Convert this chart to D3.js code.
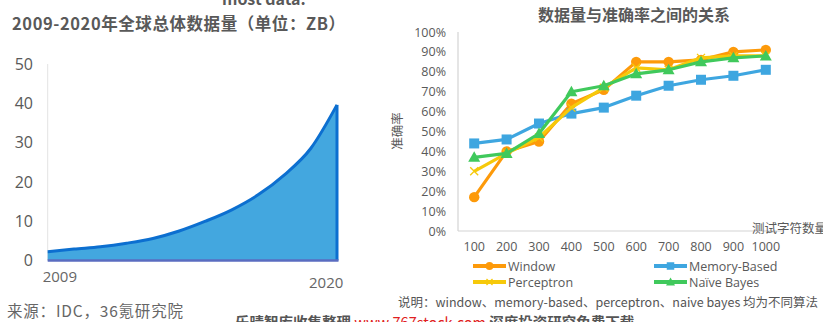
<!DOCTYPE html>
<html>
<head>
<meta charset="utf-8">
<script src="https://cdn.jsdelivr.net/npm/d3@7"></script>
<style>
  html, body { margin: 0; padding: 0; background: #fff; }
  svg { display: block; font-family: "Open Sans", "Noto Sans CJK SC", sans-serif; }
</style>
</head>
<body>
<svg id="chart" width="823" height="322"></svg>
<script>
// Global data volume 2009-2020 (ZB)
const years = [2009, 2010, 2011, 2012, 2013, 2014, 2015, 2016, 2017, 2018, 2019, 2020];
const volumeZB = [2.2, 2.9, 3.5, 4.4, 5.6, 7.5, 10, 12.9, 16.7, 21.8, 28.5, 39.6];
const volumeTicks = [0, 10, 20, 30, 40, 50];
const yearLabels = [2009, 2020];

// Accuracy vs. number of test characters
const charCounts = ["100", "200", "300", "400", "500", "600", "700", "800", "900", "1000"];
const windowAcc     = [17, 40, 45, 64, 71, 85, 85, 86, 90, 91];
const memoryAcc     = [44, 46, 54, 59, 62, 68, 73, 76, 78, 81];
const perceptronAcc = [30, 39, 47, 62, 72, 82, 81, 87, 88, 88];
const naiveBayesAcc = [37, 39, 49, 70, 73, 79, 81, 85, 87, 88];
const accTicks = [0, 10, 20, 30, 40, 50, 60, 70, 80, 90, 100];

const series = [
  { name: "Window", values: windowAcc, color: "#fd9a0a", marker: "circle" },
  { name: "Memory-Based", values: memoryAcc, color: "#3ea6e0", marker: "square" },
  { name: "Perceptron", values: perceptronAcc, color: "#f6c90a", marker: "cross" },
  { name: "Naïve Bayes", values: naiveBayesAcc, color: "#40c95c", marker: "triangle" }
];

const svg = d3.select("#chart");
const textGray = "#595959";
const cjk = "'Noto Sans CJK SC', 'Open Sans', sans-serif";

// ---------- Left: area chart ----------
svg.append("text").attr("x", 222).attr("y", 5)
  .attr("font-family", cjk).attr("font-weight", "bold").attr("font-size", 16)
  .attr("fill", textGray).text("most data.");

svg.append("text").attr("x", 12).attr("y", 30)
  .attr("font-family", cjk).attr("font-weight", "bold").attr("font-size", 16.5)
  .attr("textLength", 333).attr("lengthAdjust", "spacing")
  .attr("fill", textGray).text("2009-2020年全球总体数据量（单位：ZB）");

const xL = d3.scaleLinear().domain([2009, 2020]).range([47.7, 337]);
const yL = d3.scaleLinear().domain([0, 50]).range([260.5, 64]);

// y axis line
svg.append("line").attr("x1", 47.7).attr("x2", 47.7)
  .attr("y1", yL(50)).attr("y2", yL(0)).attr("stroke", "#e3e3e3").attr("stroke-width", 1);

const axL = svg.append("g").attr("transform", "translate(33,0)")
  .call(d3.axisLeft(yL).tickValues(volumeTicks).tickSize(0).tickPadding(0));
axL.select(".domain").remove();
axL.selectAll("text").attr("font-size", 16).attr("fill", textGray)
  .attr("font-family", "'Open Sans', sans-serif");

const area = d3.area()
  .x((d, i) => xL(years[i])).y0(yL(0)).y1(d => yL(d))
  .curve(d3.curveMonotoneX);
const line = d3.line()
  .x((d, i) => xL(years[i])).y(d => yL(d))
  .curve(d3.curveMonotoneX);

svg.append("path").datum(volumeZB).attr("d", area).attr("fill", "#43a7df");
svg.append("path").datum(volumeZB).attr("d", line)
  .attr("fill", "none").attr("stroke", "#0c6fd0").attr("stroke-width", 3);
// closing edge at 2020
svg.append("line").attr("x1", xL(2020)).attr("x2", xL(2020))
  .attr("y1", yL(volumeZB[volumeZB.length - 1])).attr("y2", yL(0))
  .attr("stroke", "#0c6fd0").attr("stroke-width", 3);
// baseline
svg.append("line").attr("x1", xL(2009)).attr("x2", xL(2020) + 1.5)
  .attr("y1", yL(0)).attr("y2", yL(0)).attr("stroke", "#5a6cc0").attr("stroke-width", 2.5);

// year labels
svg.selectAll(".yr").data(yearLabels).join("text")
  .attr("x", (d, i) => i === 0 ? xL(d) - 5 : xL(d) - 28)
  .attr("y", (d, i) => i === 0 ? 282 : 288)
  .attr("font-size", 15).attr("fill", "#666").attr("font-family", "'Open Sans', sans-serif")
  .text(d => d);

svg.append("text").attr("x", 7).attr("y", 317)
  .attr("font-family", cjk).attr("font-size", 15.5).attr("fill", "#666")
  .attr("textLength", 176).attr("lengthAdjust", "spacing")
  .text("来源：IDC，36氪研究院");

// ---------- Right: line chart ----------
svg.append("text").attr("x", 634).attr("y", 21).attr("text-anchor", "middle")
  .attr("font-family", cjk).attr("font-weight", "bold").attr("font-size", 16)
  .attr("fill", textGray).text("数据量与准确率之间的关系");

const xR = d3.scaleBand().domain(charCounts).range([458, 782]);
const yR = d3.scaleLinear().domain([0, 100]).range([231, 32]);
const cx = c => xR(c) + xR.bandwidth() / 2;

// axes lines
svg.append("line").attr("x1", 458).attr("x2", 458).attr("y1", yR(100)).attr("y2", yR(0))
  .attr("stroke", "#d4d4d4").attr("stroke-width", 1.2);
svg.append("line").attr("x1", 458).attr("x2", 782).attr("y1", yR(0)).attr("y2", yR(0))
  .attr("stroke", "#d4d4d4").attr("stroke-width", 1.2);

const axR = svg.append("g").attr("transform", "translate(446,0)")
  .call(d3.axisLeft(yR).tickValues(accTicks).tickFormat(d => d + "%").tickSize(0).tickPadding(0));
axR.select(".domain").remove();
axR.selectAll("text").attr("font-size", 12.5).attr("fill", textGray)
  .attr("font-family", "'Open Sans', sans-serif");

const axX = svg.append("g").attr("transform", "translate(0,242)")
  .call(d3.axisBottom(xR).tickSize(0).tickPadding(0));
axX.select(".domain").remove();
axX.selectAll("text").attr("font-size", 12.5).attr("fill", textGray)
  .attr("font-family", "'Open Sans', sans-serif");

svg.append("text").attr("transform", "translate(402,131) rotate(-90)")
  .attr("text-anchor", "middle").attr("font-family", cjk).attr("font-size", 12.5)
  .attr("fill", textGray).text("准确率");

svg.append("text").attr("x", 752).attr("y", 233)
  .attr("font-family", cjk).attr("font-size", 12.5).attr("fill", textGray)
  .text("测试字符数量");

const lineR = d3.line().x((d, i) => cx(charCounts[i])).y(d => yR(d));

function drawMarker(g, type, x, y, color, k = 1) {
  if (type === "circle") {
    g.append("circle").attr("cx", x).attr("cy", y).attr("r", 5.2 * k).attr("fill", color);
  } else if (type === "square") {
    g.append("rect").attr("x", x - 5 * k).attr("y", y - 5 * k)
      .attr("width", 10 * k).attr("height", 10 * k).attr("fill", color);
  } else if (type === "triangle") {
    g.append("path").attr("d", `M${x},${y - 6 * k}L${x + 6 * k},${y + 4.5 * k}L${x - 6 * k},${y + 4.5 * k}Z`)
      .attr("fill", color);
  } else {
    const r = 4 * k;
    g.append("path").attr("d", `M${x - r},${y - r}L${x + r},${y + r}M${x - r},${y + r}L${x + r},${y - r}`)
      .attr("stroke", color).attr("stroke-width", 1.3).attr("fill", "none");
  }
}

series.forEach(s => {
  const g = svg.append("g");
  g.append("path").datum(s.values).attr("d", lineR)
    .attr("fill", "none").attr("stroke", s.color).attr("stroke-width", 3.2)
    .attr("stroke-linejoin", "round");
  s.values.forEach((v, i) => drawMarker(g, s.marker, cx(charCounts[i]), yR(v), s.color));
});

// legend
const legendPos = [[473, 266], [654, 266], [473, 282], [654, 282]];
series.forEach((s, i) => {
  const [lx, ly] = legendPos[i];
  const g = svg.append("g");
  g.append("line").attr("x1", lx).attr("x2", lx + 33).attr("y1", ly).attr("y2", ly)
    .attr("stroke", s.color).attr("stroke-width", 4);
  drawMarker(g, s.marker, lx + 16.5, ly, s.color, 0.75);
  g.append("text").attr("x", lx + 35).attr("y", ly + 4.5)
    .attr("font-size", 12.5).attr("fill", textGray).attr("font-family", "'Open Sans', sans-serif")
    .text(s.name);
});

svg.append("text").attr("x", 398).attr("y", 307)
  .attr("font-family", cjk).attr("font-size", 12.5).attr("fill", "#555")
  .attr("textLength", 420).attr("lengthAdjust", "spacing")
  .text("说明：window、memory-based、perceptron、naive bayes 均为不同算法");

// footer line, clipped at the bottom edge
const foot = svg.append("text").attr("x", 235).attr("y", 328)
  .attr("font-family", cjk).attr("font-weight", "bold").attr("font-size", 14.5).attr("fill", "#555");
foot.append("tspan").text("乐晴智库收集整理 ");
foot.append("tspan").attr("fill", "#e02020").attr("font-weight", "normal").text("www.767stock.com");
foot.append("tspan").text(" 深度投资研究免费下载");
</script>
</body>
</html>
